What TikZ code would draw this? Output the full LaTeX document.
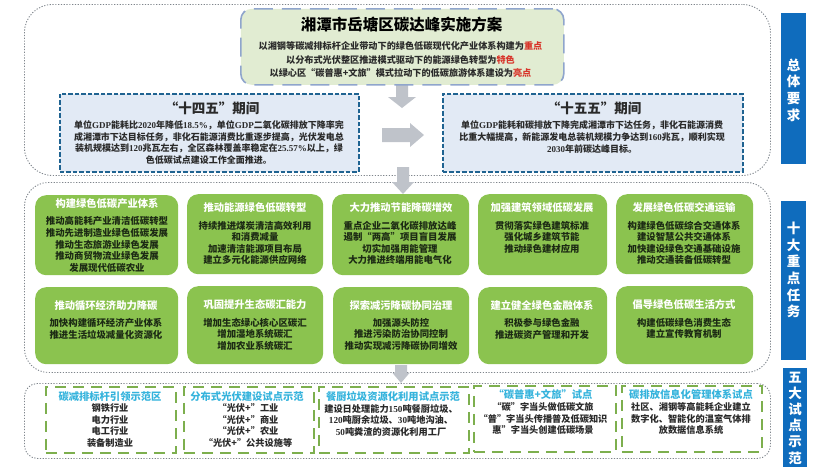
\documentclass[tikz,border=0pt]{standalone}
\usepackage{fontspec}
\setmainfont{Noto Sans CJK SC}
\newfontfamily\latf{Liberation Serif}
\newcommand{\lat}[1]{{\latf #1}}
\definecolor{frameg}{HTML}{7F858C}
\definecolor{greenbox}{HTML}{8BC34F}
\definecolor{sideblue}{HTML}{0F6CBD}
\definecolor{paleblue}{HTML}{E2EAF5}
\definecolor{dashblue}{HTML}{1F6391}
\definecolor{palegreen}{HTML}{E1ECD2}
\definecolor{titleedge}{HTML}{8FA5CC}
\definecolor{dashgreen}{HTML}{7DAF4E}
\definecolor{cyantxt}{HTML}{35B3DC}
\definecolor{arrowg}{HTML}{BFC3CA}
\definecolor{redtxt}{HTML}{D8352A}
\definecolor{darktxt}{HTML}{1C2A14}
\definecolor{graytxt}{HTML}{2A2A2A}
\newcommand{\hl}[1]{\textcolor{redtxt}{#1}}
\newcommand{\boxat}[6][]{\node[#1,minimum width=#4-#2,minimum height=#5-#3,anchor=north west] (#6) at (#2,#3) {};}
% x, top, bottom, shaft half width, head half width, head start
\newcommand{\blockdown}[6]{\fill[flowfill] (#1-#4,#2) -- (#1+#4,#2) -- (#1+#4,#6) -- (#1+#5,#6) -- (#1,#3) -- (#1-#5,#6) -- (#1-#4,#6) -- cycle;}
\tikzset{x=1pt,y=-1pt,
 flowfill/.style={fill=arrowg,draw=none},
 panel/.style={draw=frameg,line width=.9pt,dash pattern=on 1.2pt off 1.6pt,inner sep=0pt},
 sidebar/.style={fill=sideblue,inner sep=0pt},
 sidetxt/.style={text=white,inner sep=0pt,align=center,font=\fontsize{13.5}{16.7}\selectfont\bfseries},
 gbox/.style={fill=greenbox,rounded corners=11pt,inner sep=0pt},
 gtitle/.style={text=white,inner sep=0pt,font=\fontsize{10.3}{12}\selectfont\bfseries},
 gbody/.style={text=darktxt,inner sep=0pt,align=center,font=\fontsize{9.4}{11.55}\selectfont\bfseries},
 period/.style={fill=paleblue,draw=dashblue,line width=1.6pt,dash pattern=on 4.5pt off 2pt,inner sep=0pt},
 ptitle/.style={inner sep=0pt,text=graytxt,font=\fontsize{13.5}{16}\selectfont\bfseries},
 pbody/.style={inner sep=0pt,align=center,text=graytxt,font=\fontsize{9}{11.8}\selectfont\bfseries},
 titlebox/.style={fill=palegreen,draw=titleedge,line width=1.6pt,dash pattern=on 19pt off 9pt,rounded corners=11pt,inner sep=0pt},
 pilot/.style={draw=dashgreen,line width=1.6pt,dash pattern=on 11pt off 7pt,inner sep=0pt},
 ctitle/.style={inner sep=0pt,text=cyantxt,font=\fontsize{10.3}{12}\selectfont\bfseries},
 cbody/.style={inner sep=0pt,align=center,text=graytxt,font=\fontsize{9.2}{11.5}\selectfont\bfseries}}
\begin{document}
\begin{tikzpicture}
\useasboundingbox (0,0) rectangle (831,467);
% outer panels
\boxat[panel,rounded corners=28pt]{24}{4}{770}{175}{panelA}
\boxat[panel,rounded corners=24pt]{24}{182}{770}{372}{panelB}
\boxat[panel,rounded corners=13pt]{24}{383}{770}{458}{panelC}
% side bars
\boxat[sidebar]{781}{13}{806}{164}{sideA}
\boxat[sidebar]{781}{201}{806}{360}{sideB}
\boxat[sidebar]{783}{368}{807}{467}{sideC}
\node[sidetxt] (sideAt) at (793.5,90) {总\\体\\要\\求};
\node[sidetxt] (sideBt) at (793.5,270) {十\\大\\重\\点\\任\\务};
\node[sidetxt,font=\fontsize{13.5}{16.2}\selectfont\bfseries] (sideCt) at (795,418) {五\\大\\试\\点\\示\\范};
% period boxes
\boxat[period]{59}{93}{358}{171}{periodA}
\boxat[period]{442}{93}{742}{171}{periodB}
% flow arrows
\blockdown{402}{84}{108}{6}{14}{97}
\fill[flowfill] (382,128) -- (410,128) -- (410,123) -- (424,135) -- (410,147) -- (410,142) -- (382,142) -- cycle;
\blockdown{403}{167}{194}{6}{11}{182}
\blockdown{401}{365}{383}{6}{8.5}{373}
% title box
\boxat[titlebox]{240}{8}{563}{84}{titleBox}
\node[inner sep=0pt,text=black,font=\fontsize{15.5}{18}\selectfont\bfseries] (mainTitle) at (401.5,25) {湘潭市岳塘区碳达峰实施方案};
\node[inner sep=0pt,text=graytxt,align=center,font=\fontsize{9.15}{13.5}\selectfont\bfseries] (mainBody) at (400.5,59.5) {以湘钢等碳减排标杆企业带动下的绿色低碳现代化产业体系构建为\hl{重点}\\以分布式光伏整区推进模式驱动下的能源绿色转型为\hl{特色}\\以绿心区“碳普惠+文旅”模式拉动下的低碳旅游体系建设为\hl{亮点}};
% period text
\node[ptitle] (periodAt) at (212,108) {“十四五”期间};
\node[pbody] (periodAb) at (209,142.5) {单位\lat{GDP}能耗比\lat{2020}年降低\lat{18.5\%}，单位\lat{GDP}二氧化碳排放下降率完\\成湘潭市下达目标任务，非化石能源消费比重逐步提高，光伏发电总\\装机规模达到\lat{120}兆瓦左右，全区森林覆盖率稳定在\lat{25.57\%}以上，绿\\色低碳试点建设工作全面推进。};
\node[ptitle] (periodBt) at (594,108) {“十五五”期间};
\node[pbody] (periodBb) at (592,137) {单位\lat{GDP}能耗和碳排放下降完成湘潭市下达任务，非化石能源消费\\比重大幅提高，新能源发电总装机规模力争达到\lat{160}兆瓦，顺利实现\\\lat{2030}年前碳达峰目标。};
% green boxes, row 1
\boxat[gbox]{35}{195}{178}{275}{taskA}
\boxat[gbox]{187}{194}{323}{274}{taskB}
\boxat[gbox]{332}{194}{469}{275}{taskC}
\boxat[gbox]{478}{194}{607}{275}{taskD}
\boxat[gbox]{616}{194}{753}{274}{taskE}
\node[gtitle] (taskAt) at (107,204) {构建绿色低碳产业体系};
\node[gbody] (taskAb) at (107,244.5) {推动高能耗产业清洁低碳转型\\推动先进制造业绿色低碳发展\\推动生态旅游业绿色发展\\推动商贸物流业绿色发展\\发展现代低碳农业};
\node[gtitle] (taskBt) at (255,208) {推动能源绿色低碳转型};
\node[gbody] (taskBb) at (255,243) {持续推进煤炭清洁高效利用\\和消费减量\\加速清洁能源项目布局\\建立多元化能源供应网络};
\node[gtitle] (taskCt) at (401,208) {大力推动节能降碳增效};
\node[gbody] (taskCb) at (400,243) {重点企业二氧化碳排放达峰\\遏制“两高”项目盲目发展\\切实加强用能管理\\大力推进终端用能电气化};
\node[gtitle] (taskDt) at (542,208) {加强建筑领域低碳发展};
\node[gbody] (taskDb) at (542,237) {贯彻落实绿色建筑标准\\强化城乡建筑节能\\推动绿色建材应用};
\node[gtitle] (taskEt) at (684,208) {发展绿色低碳交通运输};
\node[gbody] (taskEb) at (684,243) {构建绿色低碳综合交通体系\\建设智慧公共交通体系\\加快建设绿色交通基础设施\\推动交通装备低碳转型};
% green boxes, row 2
\boxat[gbox]{35}{287}{178}{364}{taskF}
\boxat[gbox]{187}{286}{323}{364}{taskG}
\boxat[gbox]{333}{287}{469}{364}{taskH}
\boxat[gbox]{478}{287}{607}{364}{taskI}
\boxat[gbox]{616}{286}{753}{364}{taskJ}
\node[gtitle] (taskFt) at (106,306) {推动循环经济助力降碳};
\node[gbody] (taskFb) at (106,329) {加快构建循环经济产业体系\\推进生活垃圾减量化资源化};
\node[gtitle] (taskGt) at (255,305) {巩固提升生态碳汇能力};
\node[gbody] (taskGb) at (255,334) {增加生态绿心核心区碳汇\\增加湿地系统碳汇\\增加农业系统碳汇};
\node[gtitle] (taskHt) at (401,306) {探索减污降碳协同治理};
\node[gbody] (taskHb) at (401,334) {加强源头防控\\推进污染防治协同控制\\推动实现减污降碳协同增效};
\node[gtitle] (taskIt) at (542,306) {建立健全绿色金融体系};
\node[gbody] (taskIb) at (542,329) {积极参与绿色金融\\推进碳资产管理和开发};
\node[gtitle] (taskJt) at (684,305) {倡导绿色低碳生活方式};
\node[gbody] (taskJb) at (684,328.5) {构建低碳绿色消费生态\\建立宣传教育机制};
% pilot boxes
\boxat[pilot]{45}{386}{175}{452}{pilotA}
\boxat[pilot]{183}{386}{313}{452}{pilotB}
\boxat[pilot]{318}{386}{468}{452}{pilotC}
\boxat[pilot]{473}{385}{615}{451}{pilotD}
\boxat[pilot]{621}{385}{761}{451}{pilotE}
\node[ctitle] (pilotAt) at (110,397) {碳减排标杆引领示范区};
\node[cbody] (pilotAb) at (110,425.5) {钢铁行业\\电力行业\\电工行业\\装备制造业};
\node[ctitle] (pilotBt) at (247,397) {分布式光伏建设试点示范};
\node[cbody] (pilotBb) at (248,425.5) {“光伏+”工业\\“光伏+”商业\\“光伏+”农业\\“光伏+”公共设施等};
\node[ctitle] (pilotCt) at (393,397) {餐厨垃圾资源化利用试点示范};
\node[cbody] (pilotCb) at (391,420) {建设日处理能力\lat{150}吨餐厨垃圾、\\\lat{120}吨厨余垃圾、\lat{30}吨地沟油、\\\lat{50}吨粪渣的资源化利用工厂};
\node[ctitle] (pilotDt) at (543,395) {“碳普惠+文旅”试点};
\node[cbody] (pilotDb) at (543,418.5) {“碳”字当头做低碳文旅\\“普”字当头传播普及低碳知识\\惠”字当头创建低碳场景};
\node[ctitle] (pilotEt) at (691,395) {碳排放信息化管理体系试点};
\node[cbody] (pilotEb) at (691,418.5) {社区、湘钢等高能耗企业建立\\数字化、智能化的温室气体排\\放数据信息系统};
\end{tikzpicture}
\end{document}
